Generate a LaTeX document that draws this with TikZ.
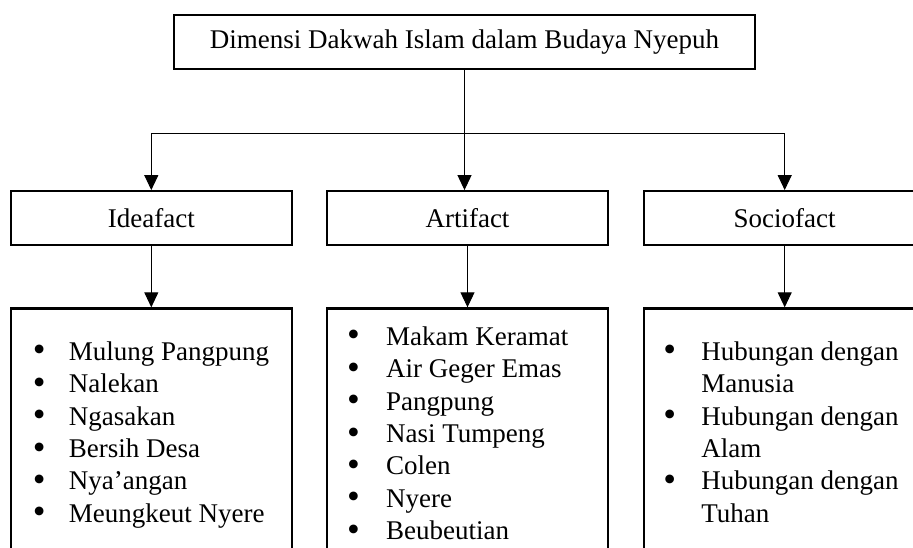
\documentclass[tikz,border=0pt]{standalone}
\usepackage{fontspec}
\usepackage{graphicx}
\setmainfont{Liberation Serif}
\usetikzlibrary{arrows.meta,positioning}
\newcommand{\itemdot}{\smash{\raisebox{-1.5pt}{\scalebox{1.35}{\textbullet}}}}

\begin{document}
\begin{tikzpicture}[
  x=1pt, y=1pt,
  node distance=33pt,
  font=\fontsize{27}{32.4}\selectfont,
  topbox/.style={rectangle, draw, line width=2.2pt, minimum width=581pt,
              minimum height=54pt, inner sep=0pt},
  dimbox/.style={rectangle, draw, line width=2.2pt, minimum width=281pt,
              minimum height=54pt, inner sep=0pt},
  listbox/.style={rectangle, draw, line width=2.2pt, minimum width=281pt,
              minimum height=320pt, inner sep=0pt},
  items/.style={anchor=base west, inner sep=0pt},
  arrow/.style={-{Triangle[length=15pt, width=14pt]}, line width=1pt},
]
\useasboundingbox (0,0) rectangle (913,-547);
\clip (0,0) rectangle (913,-547);

% Main title
\node[topbox] (dimensi) at (464.5,-42) {Dimensi Dakwah Islam dalam Budaya Nyepuh};

% Three dimensions
\node[dimbox, below=120pt of dimensi, xshift=3pt] (arti) {Artifact};
\node[dimbox, left=of arti] (idea) {Ideafact};
\node[dimbox, right=34pt of arti] (socio) {Sociofact};

% Branching arrows
\coordinate (split) at ([yshift=-63pt]dimensi.south);
\draw[arrow] (dimensi.south) -- (dimensi.south |- arti.north);
\draw[arrow] (split) -| (idea.north);
\draw[arrow] (split) -| (socio.north);

% List boxes
\node[listbox, below=61pt of idea] (ideabox) {};
\node[listbox, below=61pt of arti] (artibox) {};
\node[listbox, below=61pt of socio] (sociobox) {};

\draw[arrow] (idea) -- (ideabox);
\draw[arrow] (arti) -- (artibox);
\draw[arrow] (socio) -- (sociobox);

% List contents
\node[items] (idealist) at ([shift={(23pt,-53pt)}]ideabox.north west) {%
  \begin{tabular}[t]{@{}p{36pt}@{}l@{}}
  \itemdot & Mulung Pangpung\\
  \itemdot & Nalekan\\
  \itemdot & Ngasakan\\
  \itemdot & Bersih Desa\\
  \itemdot & Nya’angan\\
  \itemdot & Meungkeut Nyere
  \end{tabular}};
\node[items] (artilist) at ([shift={(21pt,-38pt)}]artibox.north west) {%
  \begin{tabular}[t]{@{}p{39pt}@{}l@{}}
  \itemdot & Makam Keramat\\
  \itemdot & Air Geger Emas\\
  \itemdot & Pangpung\\
  \itemdot & Nasi Tumpeng\\
  \itemdot & Colen\\
  \itemdot & Nyere\\
  \itemdot & Beubeutian
  \end{tabular}};
\node[items] (sociolist) at ([shift={(20pt,-53pt)}]sociobox.north west) {%
  \begin{tabular}[t]{@{}p{38pt}@{}l@{}}
  \itemdot & Hubungan dengan\\
           & Manusia\\
  \itemdot & Hubungan dengan\\
           & Alam\\
  \itemdot & Hubungan dengan\\
           & Tuhan
  \end{tabular}};

\end{tikzpicture}
\end{document}
